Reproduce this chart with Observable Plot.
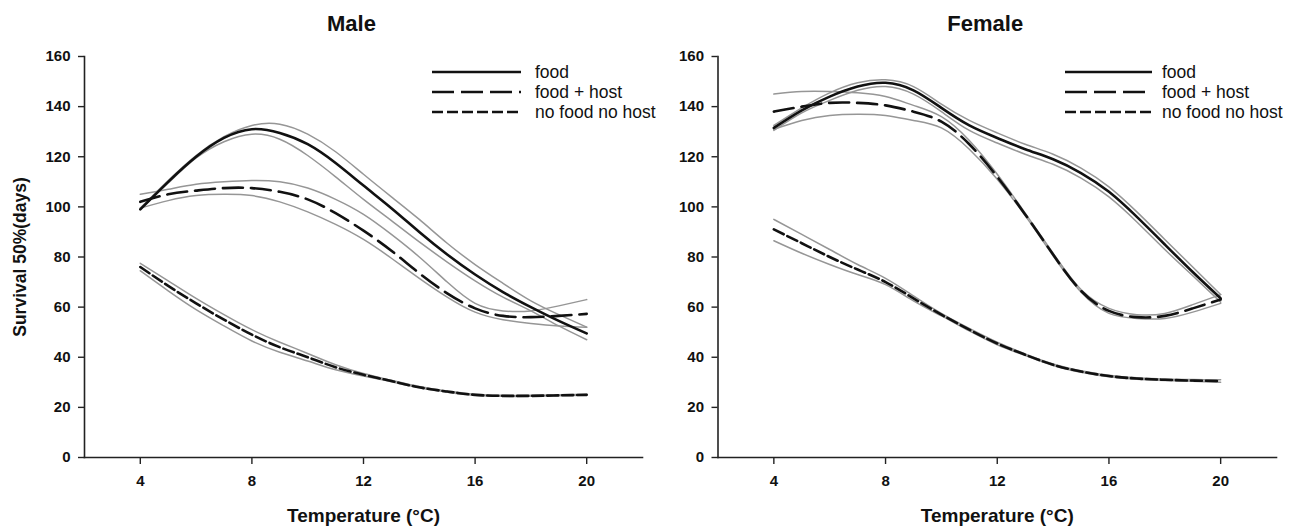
<!DOCTYPE html>
<html>
<head>
<meta charset="utf-8">
<script src="https://cdn.jsdelivr.net/npm/d3@7"></script>
<script src="https://cdn.jsdelivr.net/npm/@observablehq/plot@0.6"></script>
<style>
  html, body { margin: 0; padding: 0; background: #fff; }
  #wrap { position: relative; width: 1296px; height: 526px; display: flex; font-family: "Liberation Sans", Arial, sans-serif; }
  #wrap svg { display: block; overflow: visible; }
  #legend { position: absolute; left: 0; top: 0; pointer-events: none; }
</style>
</head>
<body>
<div id="wrap"></div>
<script>
// ---------------- data ----------------
const temps = [4, 5, 6, 7, 8, 9, 10, 11, 12, 13, 14, 15, 16, 17, 18, 19, 20];
const xTicks = [4, 8, 12, 16, 20];
const yTicks = [0, 20, 40, 60, 80, 100, 120, 140, 160];
const xDomain = [2, 22];
const yDomain = [0, 160];
const seriesNames = ["food", "food + host", "no food no host"];
const panelTitles = ["Male", "Female"];
const xLabel = "Temperature (°C)";
const yLabel = "Survival 50%(days)";

// Male
const maleFood     = [99, 110, 120, 127.5, 131, 129.5, 125, 117.5, 108.5, 99.5, 90, 81, 73, 66, 60, 54.5, 49.5];
const maleFoodHi   = [99.5, 110.5, 120.5, 128, 132.5, 133, 129, 122, 113, 104, 95, 85.5, 77, 69.5, 62.5, 57, 52];
const maleFoodLo   = [99, 109.5, 119.5, 126, 129, 127, 120.5, 112, 103, 94.5, 86, 78, 70.5, 64, 58.5, 52.5, 47];
const maleHost     = [102, 105, 106.5, 107.5, 107.5, 106, 103, 97.5, 90.5, 82.5, 73.5, 65.5, 59.5, 56.5, 56, 56.5, 57.3];
const maleHostHi   = [105, 107, 109, 110, 110.5, 110, 107.5, 103, 97, 89, 80, 70, 61.5, 58.5, 58.5, 60.5, 63];
const maleHostLo   = [99.5, 102.5, 104.5, 105, 104.5, 102, 98, 93, 87, 79.5, 71.5, 64, 58, 55, 53.5, 52.5, 52];
const maleNone     = [76, 68.5, 61.5, 55, 49, 44, 40, 36, 33, 30.5, 28, 26.3, 25, 24.6, 24.6, 24.8, 25];
const maleNoneHi   = [77.5, 70.5, 63.5, 57, 51, 46, 41.5, 37, 33.5, 30.8, 28.3, 26.5, 25.2, 24.8, 24.8, 25, 25.2];
const maleNoneLo   = [74.5, 66.5, 59, 52.5, 46.5, 42, 38.5, 35, 32.5, 30.2, 27.8, 26.1, 24.8, 24.4, 24.4, 24.6, 24.9];

// Female
const femFood      = [131.5, 138.5, 144, 148, 149.5, 146.5, 139.5, 132.5, 127.5, 123, 119, 113.5, 106, 96, 85, 74, 63.5];
const femFoodHi    = [132.5, 139.5, 145.5, 149.5, 150.7, 148, 141, 134.5, 129.5, 125, 121, 115.5, 108, 98, 87, 76, 65];
const femFoodLo    = [130.5, 137.5, 142.5, 146.5, 148, 145, 138, 130.5, 125.5, 121, 117, 111.5, 104, 94, 83, 72.5, 62];
const femHost      = [138, 140, 141.5, 141.5, 140.5, 138, 134, 125, 112, 97, 81, 66.5, 58.5, 56, 56.5, 59.5, 63];
const femHostHi    = [145, 146, 146, 145.5, 144, 140.5, 136, 126.5, 113, 97.5, 81.5, 67, 59.5, 57, 57.5, 61, 65];
const femHostLo    = [131, 134.5, 136.5, 137, 136.5, 134.5, 131.5, 123, 111, 96.5, 80.5, 66, 57.5, 55.5, 55.5, 58, 61.5];
const femNone      = [91, 85.5, 80, 75, 70, 63.5, 57, 51, 45.5, 41, 37, 34.3, 32.5, 31.5, 31, 30.7, 30.5];
const femNoneHi    = [95, 89, 83, 77, 71.5, 64.5, 57.5, 51.5, 46, 41.3, 37.3, 34.6, 32.8, 31.8, 31.3, 31.1, 31];
const femNoneLo    = [86.5, 81.5, 77, 73, 69, 62.5, 56.5, 50.5, 45, 40.7, 36.7, 34, 32.2, 31.2, 30.7, 30.4, 30];

// ---------------- drawing ----------------
const FONT = "'Liberation Sans', Arial, Helvetica, sans-serif";
const dashes = [null, "20,8", "11,4"];
const legendDashes = [null, "22,7", "11,4"];

function rows(vals) { return temps.map((t, i) => ({t, v: vals[i]})); }

function makePanel(title, groups, {marginLeft, marginRight}) {
  const marks = [];
  groups.forEach(([c, hi, lo]) => {
    for (const band of [hi, lo]) {
      marks.push(Plot.line(rows(band), {x: "t", y: "v", stroke: "#969696", strokeWidth: 1.5, curve: "natural"}));
    }
  });
  groups.forEach(([c], k) => {
    marks.push(Plot.line(rows(c), {
      x: "t", y: "v", stroke: "#111", strokeWidth: 2.6, curve: "natural",
      strokeDasharray: dashes[k] ?? undefined
    }));
  });
  return Plot.plot({
    width: 648,
    height: 526,
    marginTop: 56,
    marginBottom: 69,
    marginLeft,
    marginRight,
    x: {domain: xDomain},
    y: {domain: yDomain},
    style: {fontFamily: FONT, fontWeight: "bold", color: "#111", background: "transparent", overflow: "visible"},
    marks: [
      Plot.frame({anchor: "left", stroke: "#222", strokeWidth: 1.6}),
      Plot.frame({anchor: "bottom", stroke: "#222", strokeWidth: 1.6}),
      Plot.axisX({ticks: xTicks, tickSize: 7, tickPadding: 11, fontSize: 15, label: null, stroke: "#222", strokeWidth: 1.4}),
      Plot.axisY({ticks: yTicks, tickSize: 6, tickPadding: 8, fontSize: 15, label: null, stroke: "#222", strokeWidth: 1.4}),
      ...marks,
      Plot.text([title], {text: d => d, frameAnchor: "top", dy: -33, dx: -12, lineAnchor: "middle", fontSize: 22, fontWeight: "bold"}),
      Plot.text([xLabel], {text: d => d, frameAnchor: "bottom", dy: 64, lineAnchor: "bottom", fontSize: 19, fontWeight: "bold"})
    ]
  });
}

const wrap = document.getElementById("wrap");

const male = makePanel(panelTitles[0],
  [[maleFood, maleFoodHi, maleFoodLo], [maleHost, maleHostHi, maleHostLo], [maleNone, maleNoneHi, maleNoneLo]],
  {marginLeft: 84, marginRight: 6});
const female = makePanel(panelTitles[1],
  [[femFood, femFoodHi, femFoodLo], [femHost, femHostHi, femHostLo], [femNone, femNoneHi, femNoneLo]],
  {marginLeft: 69.5, marginRight: 20});
wrap.appendChild(male);
wrap.appendChild(female);

// y-axis title on the left panel
d3.select(male).append("text")
  .attr("transform", "translate(20,257) rotate(-90)")
  .attr("text-anchor", "middle")
  .attr("dominant-baseline", "central")
  .attr("font-family", FONT)
  .attr("font-weight", "bold")
  .attr("font-size", 17.5)
  .attr("fill", "#111")
  .text(yLabel);

// legends (overlay)
const legend = d3.select(wrap).append("svg")
  .attr("id", "legend").attr("width", 1296).attr("height", 526);
const legendSpots = [{x: 432, len: 89, textX: 535}, {x: 1065, len: 87, textX: 1162}];
const legendRows = [72, 92, 112];
legendSpots.forEach(spot => {
  seriesNames.forEach((name, k) => {
    const y = legendRows[k];
    legend.append("line")
      .attr("x1", spot.x).attr("x2", spot.x + spot.len)
      .attr("y1", y).attr("y2", y)
      .attr("stroke", "#111").attr("stroke-width", 2.6)
      .attr("stroke-dasharray", legendDashes[k]);
    legend.append("text")
      .attr("x", spot.textX).attr("y", y)
      .attr("dominant-baseline", "central")
      .attr("font-family", FONT)
      .attr("font-size", 17.5)
      .attr("fill", "#111")
      .text(name);
  });
});
</script>
</body>
</html>
